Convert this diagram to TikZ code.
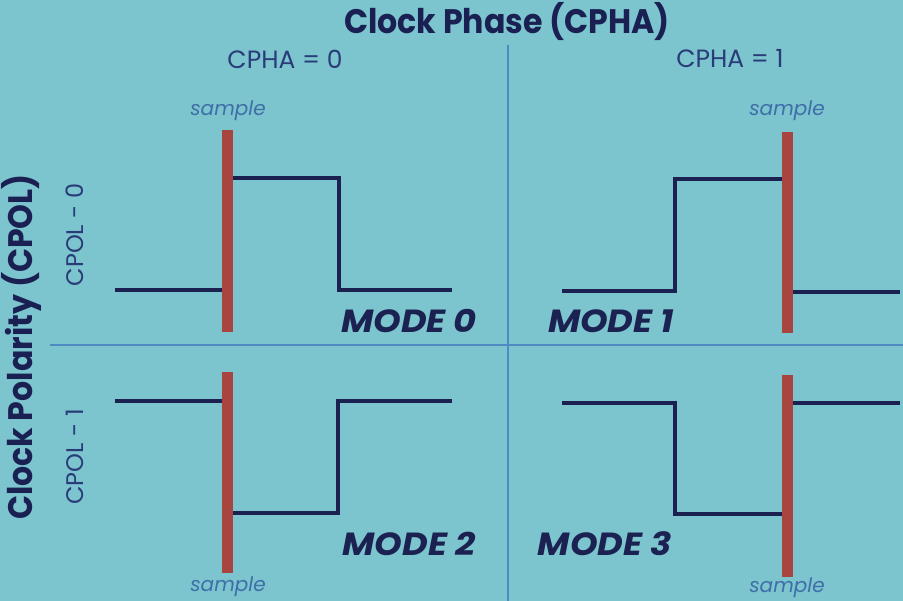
\documentclass[tikz,border=0pt]{standalone}
\usepackage{fontspec}
\setmainfont{Poppins}
\definecolor{bgc}{HTML}{7CC4CE}
\definecolor{wavec}{HTML}{1B2150}
\definecolor{barc}{HTML}{A8453F}
\definecolor{divc}{HTML}{4E8AC4}
\definecolor{titc}{HTML}{1A2152}
\definecolor{labc}{HTML}{2A3C78}
\definecolor{smpc}{HTML}{3E6FA8}
\begin{document}
\begin{tikzpicture}[x=1pt,y=-1pt,
  wave/.style={draw=wavec,line width=4pt,line join=miter},
  bar/.style={fill=barc,draw=none},
  divline/.style={draw=divc,line width=1.5pt},
  title/.style={text=titc,font=\fontsize{34}{34}\selectfont\bfseries,inner sep=0pt},
  cpha/.style={text=labc,font=\fontsize{25}{25}\selectfont,inner sep=0pt},
  cpol/.style={text=labc,font=\fontsize{24}{24}\selectfont,inner sep=0pt,rotate=90},
  mode/.style={text=wavec,font=\fontsize{32}{32}\selectfont\bfseries\itshape,inner sep=0pt},
  smp/.style={text=smpc,font=\fontsize{20}{20}\selectfont\itshape,inner sep=0pt}]
\fill[bgc] (0,0) rectangle (903,601);
\useasboundingbox (0,0) rectangle (903,601);
% dividers
\coordinate (vt) at (508,45);
\coordinate (vb) at (508,601);
\coordinate (hl) at (50,345);
\coordinate (hr) at (903,345);
\draw[divline] (vt) -- (vb);
\draw[divline] (hl) -- (hr);
% titles
\node[title] (tph) at (507,22) {\scalebox{0.93}[1]{Clock Phase (CPHA)}};
\node[title,rotate=90] (tpo) at (21,347) {\scalebox{0.93}[1]{Clock Polarity (CPOL)}};
\node[cpha] (c0) at (285,59) {CPHA = 0};
\node[cpha] (c1) at (730,59) {CPHA = 1};
\node[cpol] (p0) at (75,235) {CPOL - 0};
\node[cpol] (p1) at (75,457) {CPOL - 1};
% mode 0
\draw[wave] (115,290) -- (228,290) -- (228,178) -- (339,178) -- (339,290) -- (452,290);
\fill[bar] (222,130) rectangle (233,332);
\node[smp] (s0) at (228,111) {sample};
\node[mode] (m0) at (409,321) {\scalebox{1.1}[1]{MODE 0}};
% mode 1
\draw[wave] (562,291) -- (675,291) -- (675,179) -- (787,179) -- (787,292) -- (900,292);
\fill[bar] (782,132) rectangle (793,333);
\node[smp] (s1) at (787,111) {sample};
\node[mode] (m1) at (611,321) {\scalebox{1.1}[1]{MODE 1}};
% mode 2
\draw[wave] (115,401) -- (228,401) -- (228,513) -- (338,513) -- (338,401) -- (452,401);
\fill[bar] (222,372) rectangle (233,573);
\node[smp] (s2) at (228,587) {sample};
\node[mode] (m2) at (409,544) {\scalebox{1.1}[1]{MODE 2}};
% mode 3
\draw[wave] (562,403) -- (675,403) -- (675,514) -- (787,514) -- (787,403) -- (900,403);
\fill[bar] (782,375) rectangle (793,577);
\node[smp] (s3) at (787,588) {sample};
\node[mode] (m3) at (605,544) {\scalebox{1.1}[1]{MODE 3}};
\end{tikzpicture}
\end{document}
